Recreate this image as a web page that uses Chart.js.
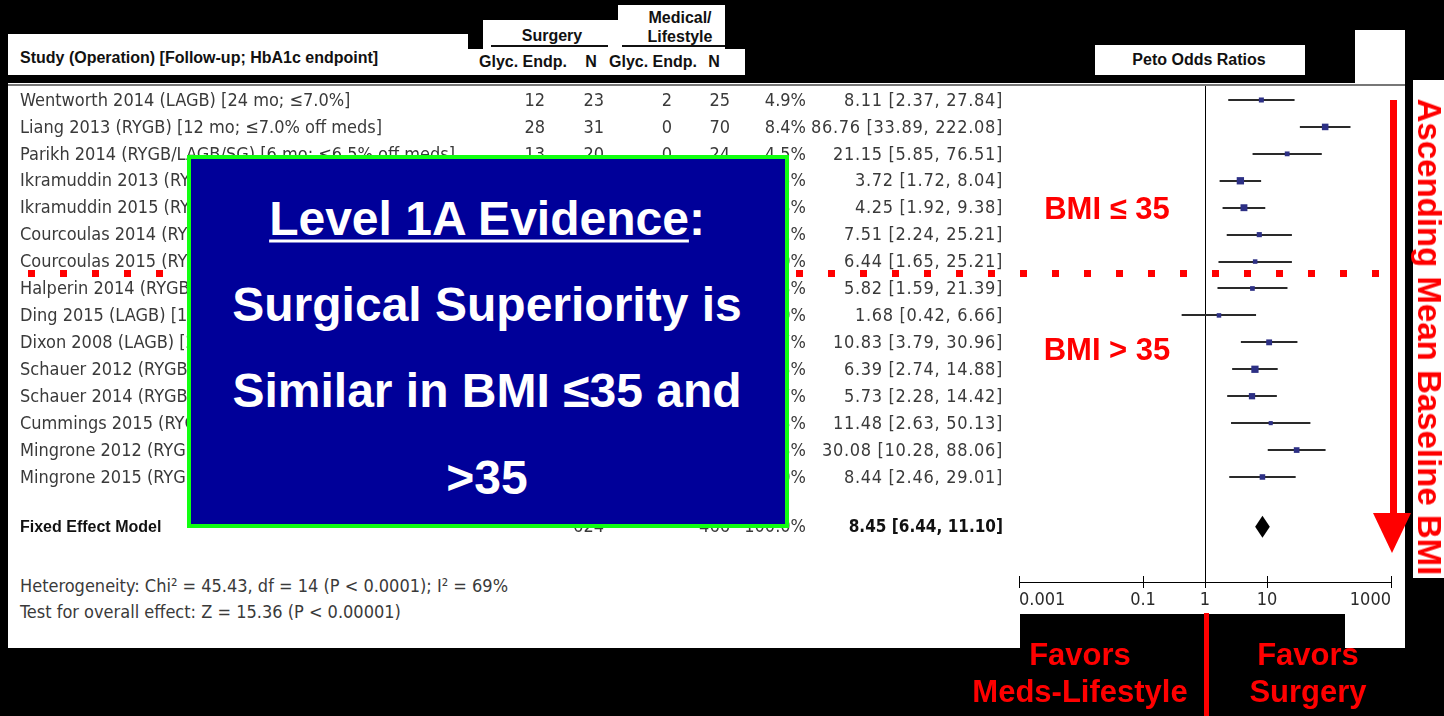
<!DOCTYPE html>
<html>
<head>
<meta charset="utf-8">
<script src="https://cdn.jsdelivr.net/npm/chart.js@4.4.1/dist/chart.umd.min.js"></script>
<style>
html, body { margin: 0; padding: 0; background: #000; width: 1444px; height: 716px; overflow: hidden; }
.white { position: absolute; background: #fff; }
.hdr { position: absolute; white-space: nowrap; font-family: 'Liberation Sans', Arial, sans-serif; font-weight: bold; font-size: 16px; color: #111; transform: translate(-50%, -50%); }
.tbl { position: absolute; white-space: nowrap; font-family: 'DejaVu Sans Condensed', 'DejaVu Sans', sans-serif; font-stretch: condensed; font-size: 18px; color: #3a3a3a; transform: translateY(-50%); }
.red { position: absolute; white-space: nowrap; color: #f00; font-family: 'Liberation Sans', Arial, sans-serif; font-weight: bold; transform: translate(-50%, -50%); }
.big { position: absolute; white-space: nowrap; color: #fff; font-family: 'Liberation Sans', Arial, sans-serif; font-weight: bold; font-size: 48px; transform: translate(-50%, -50%); }
#chart { position: absolute; left: 0; top: 0; }
</style>
</head>
<body>

<!-- white panels -->
<div class="white" style="left:8px;top:83px;width:1397px;height:531px"></div>
<div class="white" style="left:8px;top:614px;width:1012px;height:34px"></div>
<div class="white" style="left:1345px;top:614px;width:60px;height:34px"></div>
<div class="white" style="left:1355px;top:30px;width:50px;height:53px"></div>
<div class="white" style="left:1413px;top:80px;width:31px;height:498px"></div>
<div class="white" style="left:8px;top:84px;width:1397px;height:2px;background:#777"></div>

<!-- header boxes -->
<div class="white" style="left:8px;top:34px;width:460px;height:41px"></div>
<div class="white" style="left:422px;top:49px;width:323px;height:26px"></div>
<div class="white" style="left:483px;top:20px;width:135px;height:29px"></div>
<div class="white" style="left:618px;top:5px;width:107px;height:44px"></div>
<div class="white" style="left:1095px;top:45px;width:210px;height:30px"></div>
<div class="white" style="left:491px;top:45px;width:117px;height:2px;background:#111"></div>
<div class="white" style="left:622px;top:45px;width:103px;height:2px;background:#111"></div>

<div class="hdr" style="left:20px;top:58px;transform:translateY(-50%)">Study (Operation) [Follow-up; HbA1c endpoint]</div>
<div class="hdr" style="left:552px;top:36px">Surgery</div>
<div class="hdr" style="left:680px;top:18px">Medical/</div>
<div class="hdr" style="left:680px;top:37px">Lifestyle</div>
<div class="hdr" style="left:523px;top:62px">Glyc. Endp.</div>
<div class="hdr" style="left:591px;top:62px">N</div>
<div class="hdr" style="left:653px;top:62px">Glyc. Endp.</div>
<div class="hdr" style="left:714px;top:62px">N</div>
<div class="hdr" style="left:1199px;top:60px">Peto Odds Ratios</div>

<!-- summary statistics -->
<div class="tbl" style="left:20px;top:585px">Heterogeneity: Chi² = 45.43, df = 14 (P &lt; 0.0001); I² = 69%</div>
<div class="tbl" style="left:20px;top:611px">Test for overall effect: Z = 15.36 (P &lt; 0.00001)</div>

<canvas id="chart" width="1444" height="716"></canvas>

<!-- annotations -->
<div style="position:absolute;left:28px;top:270px;width:1351px;height:7px;background:repeating-linear-gradient(to right,#f00 0 7px,transparent 7px 32px)"></div>

<div style="position:absolute;left:187px;top:155px;width:594px;height:365px;background:#000099;border:4px solid #11ff11"></div>
<div class="big" style="left:487px;top:218px"><span style="text-decoration:underline;text-decoration-thickness:3px;text-underline-offset:5px">Level 1A Evidence</span>:</div>
<div class="big" style="left:487px;top:304px">Surgical Superiority is</div>
<div class="big" style="left:487px;top:390px">Similar in BMI ≤35 and</div>
<div class="big" style="left:487px;top:477px">&gt;35</div>

<div class="red" style="left:1107px;top:209px;font-size:31px">BMI ≤ 35</div>
<div class="red" style="left:1107px;top:350px;font-size:31px">BMI &gt; 35</div>

<div style="position:absolute;left:1390px;top:100px;width:7px;height:415px;background:#f00"></div>
<div style="position:absolute;left:1373px;top:513px;width:0;height:0;border-left:19px solid transparent;border-right:19px solid transparent;border-top:40px solid #f00"></div>
<div class="red" style="left:1429px;top:337px;font-size:33px;transform:translate(-50%,-50%) rotate(90deg)">Ascending Mean Baseline BMI</div>

<div style="position:absolute;left:1204px;top:613px;width:5px;height:103px;background:#f00"></div>
<div class="red" style="left:1080px;top:655px;font-size:31px">Favors</div>
<div class="red" style="left:1080px;top:692px;font-size:31px">Meds-Lifestyle</div>
<div class="red" style="left:1308px;top:655px;font-size:31px">Favors</div>
<div class="red" style="left:1308px;top:692px;font-size:31px">Surgery</div>

<script>
// study rows, top to bottom (ascending mean baseline BMI)
const studies = [
    'Wentworth 2014 (LAGB) [24 mo; ≤7.0%]',
    'Liang 2013 (RYGB) [12 mo; ≤7.0% off meds]',
    'Parikh 2014 (RYGB/LAGB/SG) [6 mo; ≤6.5% off meds]',
    'Ikramuddin 2013 (RYGB) [12 mo; <7.0%]',
    'Ikramuddin 2015 (RYGB) [24 mo; <7.0%]',
    'Courcoulas 2014 (RYGB/LAGB) [12 mo; <6.5%]',
    'Courcoulas 2015 (RYGB/LAGB) [36 mo; <6.5%]',
    'Halperin 2014 (RYGB) [12 mo; <6.5%]',
    'Ding 2015 (LAGB) [12 mo; <6.5%]',
    'Dixon 2008 (LAGB) [24 mo; <6.2% off meds]',
    'Schauer 2012 (RYGB/SG) [12 mo; ≤6.0%]',
    'Schauer 2014 (RYGB/SG) [36 mo; ≤6.0%]',
    'Cummings 2015 (RYGB) [12 mo; <6.5% off meds]',
    'Mingrone 2012 (RYGB/BPD) [24 mo; <6.5% off meds]',
    'Mingrone 2015 (RYGB/BPD) [60 mo; <6.5% off meds]'
];
// surgery arm: glycemic endpoint reached / N (rows 4+ are hidden in the original, estimated)
const surgEvents = [12, 28, 13, 29, 25, 20, 16, 11, 8, 22, 42, 30, 14, 30, 20];
const surgN      = [23, 31, 20, 60, 57, 45, 40, 19, 23, 30, 100, 60, 23, 40, 53];
// medical / lifestyle arm
const medEvents  = [2, 0, 0, 12, 9, 2, 2, 3, 5, 4, 12, 5, 1, 0, 2];
const medN       = [25, 70, 24, 60, 55, 22, 20, 19, 22, 30, 50, 38, 12, 10, 9];
const weights    = [4.9, 8.4, 4.5, 10.5, 9.3, 5.1, 4.0, 4.3, 4.0, 6.7, 10.3, 7.7, 3.3, 6.3, 6.0];
const oddsRatios = [8.11, 86.76, 21.15, 3.72, 4.25, 7.51, 6.44, 5.82, 1.68, 10.83, 6.39, 5.73, 11.48, 30.08, 8.44];
const ciLower    = [2.37, 33.89, 5.85, 1.72, 1.92, 2.24, 1.65, 1.59, 0.42, 3.79, 2.74, 2.28, 2.63, 10.28, 2.46];
const ciUpper    = [27.84, 222.08, 76.51, 8.04, 9.38, 25.21, 25.21, 21.39, 6.66, 30.96, 14.88, 14.42, 50.13, 88.06, 29.01];

// fixed effect (pooled) estimate
const pooledLabel = 'Fixed Effect Model';
const pooledOR = 8.45;
const pooledLower = 6.44;
const pooledUpper = 11.10;
const pooledWeight = '100.0%';

const axisTicks = [0.001, 0.1, 1, 10, 1000];
const axisTickLabels = ['0.001', '0.1', '1', '10', '1000'];

const TABLE_FONT = "18px 'DejaVu Sans Condensed', 'DejaVu Sans', sans-serif";
const TABLE_BOLD = "bold 17px 'DejaVu Sans Condensed', 'DejaVu Sans', sans-serif";
const pooledRow = studies.length + 0.85;

function fmt2(v) { return v.toFixed(2); }

// draws CI whiskers, the OR=1 line, the pooled diamond and the text columns
const forestPlugin = {
    id: 'forest',
    beforeDatasetsDraw(chart) {
        const { ctx, chartArea, scales: { x, y } } = chart;
        ctx.save();
        // line of no effect
        ctx.strokeStyle = '#000';
        ctx.lineWidth = 1;
        const x1 = Math.round(x.getPixelForValue(1)) + 0.5;
        ctx.beginPath();
        ctx.moveTo(x1, 86);
        ctx.lineTo(x1, chartArea.bottom);
        ctx.stroke();

        // upper half of the axis tick marks
        axisTicks.forEach(v => {
            const tx = Math.round(x.getPixelForValue(v)) + 0.5;
            ctx.beginPath();
            ctx.moveTo(tx, chartArea.bottom - 6);
            ctx.lineTo(tx, chartArea.bottom);
            ctx.stroke();
        });

        // confidence intervals
        ctx.strokeStyle = '#2a2a2a';
        ctx.lineWidth = 2;
        studies.forEach((s, i) => {
            const py = Math.round(y.getPixelForValue(i));
            ctx.beginPath();
            ctx.moveTo(x.getPixelForValue(ciLower[i]), py);
            ctx.lineTo(x.getPixelForValue(ciUpper[i]), py);
            ctx.stroke();
        });

        // pooled diamond
        const dy = y.getPixelForValue(pooledRow);
        ctx.fillStyle = '#000';
        ctx.beginPath();
        ctx.moveTo(x.getPixelForValue(pooledLower), dy);
        ctx.lineTo(x.getPixelForValue(pooledOR), dy - 11);
        ctx.lineTo(x.getPixelForValue(pooledUpper), dy);
        ctx.lineTo(x.getPixelForValue(pooledOR), dy + 11);
        ctx.closePath();
        ctx.fill();
        ctx.restore();
    },
    afterDraw(chart) {
        const { ctx, scales: { y } } = chart;
        ctx.save();
        ctx.fillStyle = '#3a3a3a';
        ctx.textBaseline = 'middle';
        try { ctx.fontStretch = 'condensed'; } catch (e) {}
        studies.forEach((s, i) => {
            const py = y.getPixelForValue(i) + 1;
            ctx.font = TABLE_FONT;
            ctx.letterSpacing = '0px';
            ctx.textAlign = 'left';
            ctx.fillText(s, 20, py);
            ctx.textAlign = 'right';
            ctx.fillText(String(surgEvents[i]), 545, py);
            ctx.fillText(String(surgN[i]), 604, py);
            ctx.fillText(String(medEvents[i]), 672, py);
            ctx.fillText(String(medN[i]), 730, py);
            ctx.fillText(weights[i].toFixed(1) + '%', 806, py);
            ctx.letterSpacing = '0.7px';
            ctx.fillText(`${fmt2(oddsRatios[i])} [${fmt2(ciLower[i])}, ${fmt2(ciUpper[i])}]`, 1003, py);
        });

        // pooled row
        const py = y.getPixelForValue(pooledRow) + 1;
        ctx.letterSpacing = '0px';
        ctx.fillStyle = '#111';
        ctx.font = "bold 16px 'Liberation Sans', Arial, sans-serif";
        ctx.textAlign = 'left';
        ctx.fillText(pooledLabel, 20, py);
        ctx.fillStyle = '#3a3a3a';
        ctx.font = TABLE_FONT;
        ctx.textAlign = 'right';
        ctx.fillText(String(surgN.reduce((a, b) => a + b, 0)), 604, py);
        ctx.fillText(String(medN.reduce((a, b) => a + b, 0)), 730, py);
        ctx.fillText(pooledWeight, 806, py);
        ctx.fillStyle = '#111';
        ctx.font = TABLE_BOLD;
        ctx.fillText(`${fmt2(pooledOR)} [${fmt2(pooledLower)}, ${fmt2(pooledUpper)}]`, 1003, py);
        ctx.restore();
    }
};

const ctx = document.getElementById('chart').getContext('2d');
new Chart(ctx, {
    type: 'scatter',
    data: {
        datasets: [{
            data: studies.map((s, i) => ({ x: oddsRatios[i], y: i })),
            pointStyle: 'rect',
            pointRadius: weights.map(w => 1.6 * Math.sqrt(w)),
            backgroundColor: '#2d3085',
            borderColor: '#2d3085',
            borderWidth: 0
        }]
    },
    options: {
        responsive: false,
        animation: false,
        layout: { padding: { left: 1019, right: 53, top: 85, bottom: 104 } },
        plugins: { legend: { display: false }, tooltip: { enabled: false } },
        scales: {
            x: {
                type: 'logarithmic',
                min: 0.001,
                max: 1000,
                afterBuildTicks: scale => { scale.ticks = axisTicks.map(v => ({ value: v })); },
                afterFit: scale => { scale.height = 30; },
                ticks: {
                    align: 'inner',
                    autoSkip: false,
                    maxRotation: 0,
                    padding: 2,
                    color: '#2a2a2a',
                    font: { family: "'DejaVu Sans Condensed', 'DejaVu Sans', sans-serif", size: 18 },
                    callback: (v, i) => axisTickLabels[i]
                },
                grid: { drawOnChartArea: false, tickLength: 6, color: '#000' },
                border: { color: '#000', width: 1 }
            },
            y: { type: 'linear', display: false, reverse: true, min: -0.557, max: 17.9 }
        }
    },
    plugins: [forestPlugin]
});
</script>
</body>
</html>
